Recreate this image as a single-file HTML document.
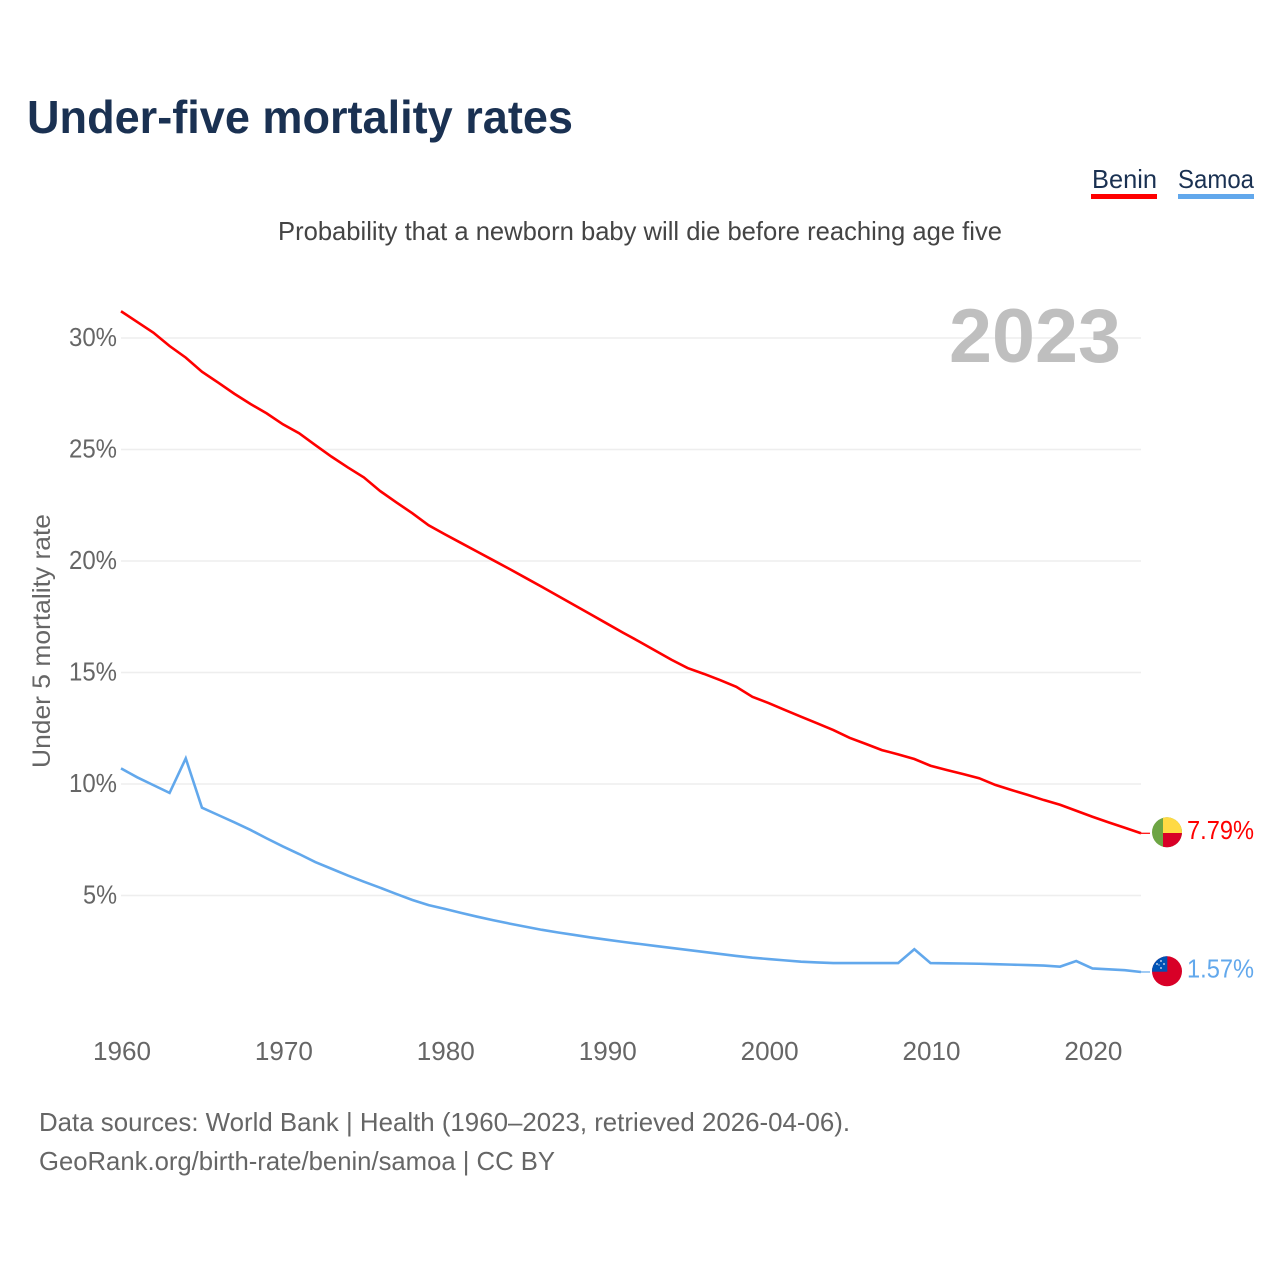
<!DOCTYPE html>
<html lang="en">
<head>
<meta charset="utf-8">
<title>Under-five mortality rates</title>
<style>
html,body{margin:0;padding:0;background:#fff;width:1280px;height:1280px;overflow:hidden}
svg{display:block}
text{font-family:"Liberation Sans",Arial,sans-serif}
</style>
</head>
<body>
<svg id="chart" xmlns="http://www.w3.org/2000/svg" width="1280" height="1280" viewBox="0 0 1280 1280">
  <defs>
    <clipPath id="clip-benin"><circle cx="1167" cy="832.3" r="15"></circle></clipPath>
    <clipPath id="clip-samoa"><circle cx="1167" cy="971.3" r="15"></circle></clipPath>
  </defs>
  <rect x="0" y="0" width="1280" height="1280" fill="#fff"></rect>
  <text x="27" y="133" font-size="46" font-weight="700" fill="#1a3152" textLength="546" lengthAdjust="spacingAndGlyphs">Under-five mortality rates</text>

  <text x="1092" y="188" font-size="26" fill="#1a3152" textLength="65" lengthAdjust="spacingAndGlyphs">Benin</text>
  <rect x="1091" y="194" width="66" height="5" fill="#ff0000"></rect>
  <text x="1178" y="188" font-size="26" fill="#1a3152" textLength="76" lengthAdjust="spacingAndGlyphs">Samoa</text>
  <rect x="1178" y="194" width="76" height="5" fill="#62a8ec"></rect>

  <text x="278" y="240" font-size="26" fill="#444" textLength="724" lengthAdjust="spacingAndGlyphs">Probability that a newborn baby will die before reaching age five</text>

  <g id="grid"></g>
  <g id="y-ticks"></g>
  <g id="x-ticks"></g>

  <text x="949" y="362" font-size="76" font-weight="700" fill="#bfbfbf" textLength="172" lengthAdjust="spacingAndGlyphs">2023</text>
  <text x="0" y="0" transform="translate(50,768) rotate(-90)" font-size="25" fill="#666" textLength="254" lengthAdjust="spacingAndGlyphs">Under 5 mortality rate</text>

  <g id="series"></g>

  <g clip-path="url(#clip-benin)">
    <rect x="1150" y="815" width="34" height="36" fill="#6da544"></rect>
    <rect x="1163" y="815" width="21" height="18" fill="#ffda44"></rect>
    <rect x="1163" y="833" width="21" height="18" fill="#d80027"></rect>
  </g>
  <g clip-path="url(#clip-samoa)">
    <rect x="1150" y="954" width="34" height="35" fill="#d80027"></rect>
    <rect x="1150" y="954" width="17.3" height="17.7" fill="#0052b4"></rect>
    <circle cx="1161" cy="961" r="0.9" fill="#e8eef8"></circle>
    <circle cx="1157" cy="964" r="0.9" fill="#e8eef8"></circle>
    <circle cx="1164" cy="964" r="0.9" fill="#e8eef8"></circle>
    <circle cx="1161" cy="968" r="0.9" fill="#e8eef8"></circle>
    <circle cx="1159" cy="965" r="0.6" fill="#e8eef8"></circle>
  </g>

  <g id="end-labels"></g>

  <text x="39" y="1131" font-size="26" fill="#666" textLength="811" lengthAdjust="spacingAndGlyphs">Data sources: World Bank | Health (1960–2023, retrieved 2026-04-06).</text>
  <text x="39" y="1170" font-size="26" fill="#666" textLength="516" lengthAdjust="spacingAndGlyphs">GeoRank.org/birth-rate/benin/samoa | CC BY</text>
</svg>
<script>
const firstYear = 1960;
const beninValues = [31.2,30.72,30.24,29.64,29.12,28.49,28.0,27.5,27.04,26.62,26.13,25.73,25.2,24.68,24.2,23.75,23.14,22.63,22.14,21.6,21.2,20.81,20.42,20.03,19.64,19.24,18.84,18.43,18.02,17.61,17.2,16.79,16.39,15.98,15.57,15.2,14.94,14.66,14.36,13.91,13.63,13.32,13.02,12.72,12.42,12.07,11.8,11.52,11.33,11.12,10.82,10.63,10.45,10.26,9.96,9.73,9.51,9.28,9.07,8.8,8.53,8.28,8.04,7.79];
const samoaValues = [10.7,10.3,9.95,9.6,11.15,8.94,8.61,8.28,7.94,7.56,7.2,6.86,6.5,6.2,5.9,5.62,5.35,5.07,4.8,4.57,4.4,4.22,4.05,3.89,3.74,3.6,3.46,3.34,3.23,3.12,3.02,2.92,2.83,2.74,2.65,2.56,2.47,2.38,2.29,2.21,2.15,2.09,2.03,2.0,1.97,1.97,1.97,1.97,1.97,2.59,1.97,1.96,1.95,1.94,1.92,1.9,1.88,1.86,1.81,2.06,1.73,1.69,1.65,1.57];
const yTickValues = [5,10,15,20,25,30];
const xTickValues = [1960,1970,1980,1990,2000,2010,2020];
const lastYear = 2023;

const SVGNS = 'http://www.w3.org/2000/svg';
function xScale(year){ return 121 + (year - firstYear) * (1141 - 121) / (lastYear - firstYear); }
function yScale(v){ return 1007 - v * 22.3; }
function make(tag, attrs, parent){
  const el = document.createElementNS(SVGNS, tag);
  for (const k in attrs) el.setAttribute(k, attrs[k]);
  parent.appendChild(el);
  return el;
}

const grid = document.getElementById('grid');
const yTicks = document.getElementById('y-ticks');
const xTicks = document.getElementById('x-ticks');
const seriesGroup = document.getElementById('series');
const endLabels = document.getElementById('end-labels');

yTickValues.forEach(function(v){
  const line = make('line', {x1: xScale(firstYear), x2: xScale(lastYear), y1: yScale(v), y2: yScale(v), stroke: '#eeeeee', 'stroke-width': 1.6}, grid);
  
  
  const label = make('text', {x: 117, y: yScale(v) + 8, 'font-size': 26, fill: '#666', 'text-anchor': 'end', textLength: 48, lengthAdjust: 'spacingAndGlyphs'}, yTicks);
  if (v < 10) label.setAttribute('textLength', 34);
  label.textContent = v + '%';
  
  
});

xTickValues.forEach(function(year){
  const label = make('text', {x: xScale(year) + 1, y: 1060, 'font-size': 26, fill: '#666', 'text-anchor': 'middle', textLength: 58, lengthAdjust: 'spacingAndGlyphs'}, xTicks);
  label.textContent = String(year);
  
  
});

function drawSeries(values, color, key){
  const pts = values.map(function(v, i){ return xScale(firstYear + i).toFixed(2) + ',' + yScale(v).toFixed(2); });
  const line = make('polyline', {points: pts.join(' '), fill: 'none', stroke: color, 'stroke-width': 2.6, 'stroke-linejoin': 'miter'}, seriesGroup);
  
  
  const last = values[values.length - 1];
  const leader = make('line', {x1: xScale(lastYear), x2: 1150, y1: yScale(last), y2: yScale(last), stroke: color, 'stroke-width': 1.2}, seriesGroup);
  
  
  const label = make('text', {x: 1187, y: yScale(last) + 5.5, 'font-size': 26, fill: color, textLength: 67, lengthAdjust: 'spacingAndGlyphs'}, endLabels);
  label.textContent = last.toFixed(2) + '%';
  
  
}
drawSeries(beninValues, '#ff0000', 'benin');
drawSeries(samoaValues, '#62a8ec', 'samoa');
</script>
</body>
</html>
